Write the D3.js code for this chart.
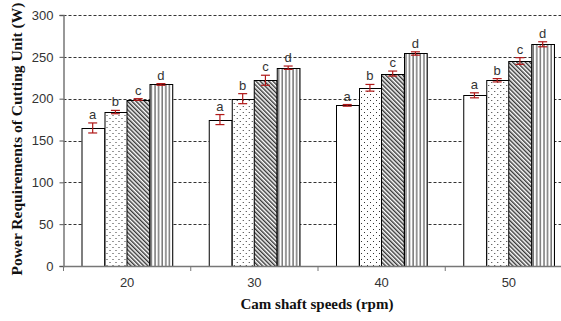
<!DOCTYPE html>
<html>
<head>
<meta charset="utf-8">
<script src="https://cdn.jsdelivr.net/npm/d3@7"></script>
<style>
  html, body { margin: 0; padding: 0; background: #fff; }
  svg { display: block; }
</style>
</head>
<body>
<svg id="chart" width="561" height="321"></svg>
<script>
// Cam shaft speeds (rpm) on the x axis
const speeds = ["20", "30", "40", "50"];
// Treatment series, labelled a–d above each bar
const series = ["a", "b", "c", "d"];
// Mean power requirement (W) for each speed, per series
const valuesA = [165, 175, 192, 204];
const valuesB = [184, 200, 213, 222];
const valuesC = [199, 222, 230, 245];
const valuesD = [217, 237, 254, 265];
// Error bar half-lengths (W)
const errA = [6, 6, 1, 3];
const errB = [2, 6, 4, 2];
const errC = [1, 6, 3, 4];
const errD = [1, 2, 2, 3];
// Y axis ticks
const yTicks = [0, 50, 100, 150, 200, 250, 300];

const values = [valuesA, valuesB, valuesC, valuesD];
const errs = [errA, errB, errC, errD];
const rows = [];
speeds.forEach((s, i) => {
  series.forEach((k, j) => {
    rows.push({ speed: s, key: k, value: values[j][i], err: errs[j][i] });
  });
});

const svg = d3.select("#chart");
const plotLeft = 63.5, plotRight = 572.5, plotTop = 15, plotBottom = 266;

const x = d3.scaleBand().domain(speeds).range([plotLeft, plotRight]).padding(0);
const bw = x.bandwidth();
const x1 = d3.scaleBand().domain(series).range([bw * 0.14, bw * 0.855]).padding(0);
const y = d3.scaleLinear().domain([0, 300]).range([plotBottom, plotTop]);

// Fill patterns
const defs = svg.append("defs");
const dots = defs.append("pattern").attr("id", "dots")
  .attr("patternUnits", "userSpaceOnUse").attr("width", 6).attr("height", 6);
dots.append("rect").attr("width", 6).attr("height", 6).attr("fill", "#fff");
dots.append("rect").attr("x", 1).attr("y", 1).attr("width", 1).attr("height", 1).attr("fill", "#333");
dots.append("rect").attr("x", 4).attr("y", 4).attr("width", 1).attr("height", 1).attr("fill", "#333");

const hatch = defs.append("pattern").attr("id", "hatch")
  .attr("patternUnits", "userSpaceOnUse").attr("width", 3).attr("height", 3)
  .attr("patternTransform", "rotate(-45)");
hatch.append("rect").attr("width", 3).attr("height", 3).attr("fill", "#fff");
hatch.append("line").attr("x1", 0.75).attr("y1", 0).attr("x2", 0.75).attr("y2", 3)
  .attr("stroke", "#222").attr("stroke-width", 1.3);

const stripes = defs.append("pattern").attr("id", "stripes")
  .attr("patternUnits", "userSpaceOnUse").attr("width", 3.6).attr("height", 4)
  .attr("x", 0.5);
stripes.append("rect").attr("width", 3.6).attr("height", 4).attr("fill", "#fff");
stripes.append("line").attr("x1", 1).attr("y1", 0).attr("x2", 1).attr("y2", 4)
  .attr("stroke", "#333").attr("stroke-width", 1);

const fills = { a: "#fff", b: "url(#dots)", c: "url(#hatch)", d: "url(#stripes)" };

// Dashed horizontal gridlines
svg.append("g").selectAll("line")
  .data(yTicks.filter(t => t > 0))
  .join("line")
  .attr("x1", plotLeft).attr("x2", 561)
  .attr("y1", d => Math.round(y(d)) + 0.5).attr("y2", d => Math.round(y(d)) + 0.5)
  .attr("stroke", "#333").attr("stroke-width", 1)
  .attr("stroke-dasharray", "3,2");

// Bars
const groups = svg.append("g").selectAll("g")
  .data(speeds).join("g")
  .attr("transform", d => `translate(${x(d)},0)`);

groups.selectAll("rect")
  .data(s => rows.filter(r => r.speed === s))
  .join("rect")
  .attr("x", d => Math.round(x1(d.key)) + 0.5)
  .attr("y", d => Math.round(y(d.value)) + 0.5)
  .attr("width", x1.bandwidth())
  .attr("height", d => y(0) - Math.round(y(d.value)))
  .attr("fill", d => fills[d.key])
  .attr("stroke", "#000").attr("stroke-width", 1);

// Error bars
const eb = groups.selectAll("g.err")
  .data(s => rows.filter(r => r.speed === s))
  .join("g").attr("class", "err")
  .attr("stroke", "#b01818").attr("stroke-width", 1.2);
const cx = d => x1(d.key) + x1.bandwidth() / 2;
eb.append("line")
  .attr("x1", cx).attr("x2", cx)
  .attr("y1", d => y(d.value + d.err)).attr("y2", d => y(d.value - d.err));
eb.append("line")
  .attr("x1", d => cx(d) - 4.5).attr("x2", d => cx(d) + 4.5)
  .attr("y1", d => y(d.value + d.err)).attr("y2", d => y(d.value + d.err));
eb.append("line")
  .attr("x1", d => cx(d) - 4.5).attr("x2", d => cx(d) + 4.5)
  .attr("y1", d => y(d.value - d.err)).attr("y2", d => y(d.value - d.err));

// Letter labels above each bar
groups.selectAll("text.lbl")
  .data(s => rows.filter(r => r.speed === s))
  .join("text").attr("class", "lbl")
  .attr("x", cx)
  .attr("y", d => y(d.value + d.err) - 4)
  .attr("text-anchor", "middle")
  .attr("font-family", "Liberation Sans, Arial, sans-serif")
  .attr("font-size", 13)
  .attr("fill", "#333")
  .text(d => d.key);

// Y axis
const yAxis = svg.append("g")
  .attr("transform", `translate(${plotLeft},0)`)
  .call(d3.axisLeft(y).tickValues(yTicks).tickSize(4).tickPadding(6));
yAxis.select(".domain").attr("stroke", "#777").attr("stroke-width", 1.5);
yAxis.selectAll(".tick line").attr("stroke", "#555");
yAxis.selectAll("text")
  .attr("font-family", "Liberation Sans, Arial, sans-serif")
  .attr("font-size", 13).attr("fill", "#333");

// X axis
const xAxis = svg.append("g")
  .attr("transform", `translate(0,${plotBottom})`)
  .call(d3.axisBottom(x).tickSize(0).tickPadding(12).tickSizeOuter(0));
xAxis.select(".domain").attr("stroke", "#777").attr("stroke-width", 1.5);
xAxis.selectAll("text")
  .attr("font-family", "Liberation Sans, Arial, sans-serif")
  .attr("font-size", 13).attr("fill", "#333");
// Category boundary tick marks
xAxis.append("g").selectAll("line")
  .data(speeds)
  .join("line")
  .attr("x1", d => x(d)).attr("x2", d => x(d))
  .attr("y1", 0).attr("y2", 5)
  .attr("stroke", "#777").attr("stroke-width", 1);

// Axis titles
svg.append("text")
  .attr("x", 317).attr("y", 309)
  .attr("text-anchor", "middle")
  .attr("font-family", "Liberation Serif, Times New Roman, serif")
  .attr("font-weight", "bold").attr("font-size", 15)
  .attr("fill", "#111")
  .text("Cam shaft speeds (rpm)");

svg.append("text")
  .attr("transform", "translate(22,139) rotate(-90)")
  .attr("text-anchor", "middle")
  .attr("font-family", "Liberation Serif, Times New Roman, serif")
  .attr("font-weight", "bold").attr("font-size", 15.5)
  .attr("fill", "#111")
  .text("Power Requirements of Cutting Unit (W)");
</script>
</body>
</html>
